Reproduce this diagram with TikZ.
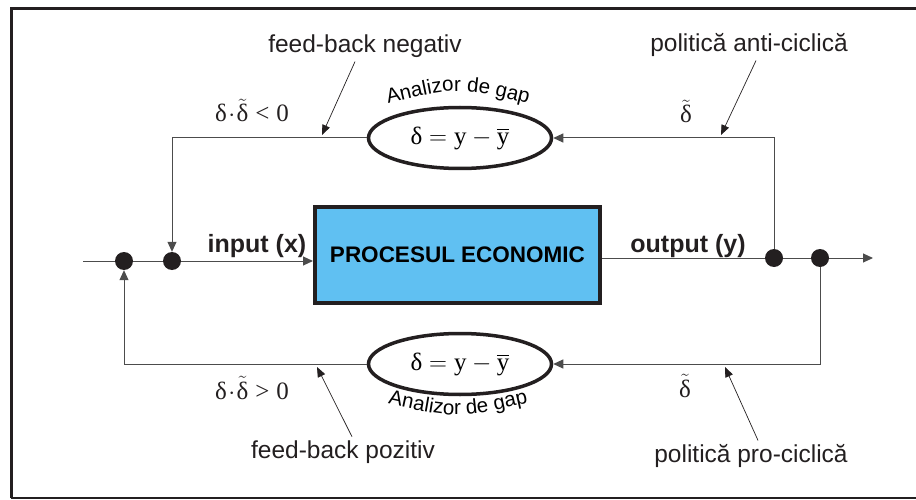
\documentclass[tikz,border=0pt]{standalone}
\usepackage[]{amsmath}
\usepackage[no-math]{fontspec}
\usepackage[]{tikz}
\setmainfont{Liberation Sans}
\newfontfamily\tms{Liberation Serif}
\usetikzlibrary{arrows.meta}
\usetikzlibrary{shapes.geometric}
\usetikzlibrary{decorations.text}
\usetikzlibrary{positioning}
\definecolor{procblue}{RGB}{96,192,242}
\definecolor{ink}{RGB}{35,31,32}
\newcommand{\gd}{\text{\tms δ}}
\newcommand{\gy}{\text{\tms y}}
\newcommand{\gsign}[1]{\mathrel{\text{\tms #1}}\text{\tms 0}}
\newcommand{\lblfont}{\fontsize{24.5}{28}\selectfont}
\newcommand{\gapfont}{\fontsize{20.5}{24}\selectfont}
\tikzset{junct/.style = {fill=ink, circle, inner sep = 0, minimum size = 18pt}}
\tikzset{gapbox/.style = {draw=ink, ellipse, line width = 3.5pt, minimum width = 183pt, minimum height = 61pt, inner sep = 0, font=\fontsize{25}{28}\selectfont}}
\tikzset{procbox/.style = {draw=ink, fill=procblue, line width = 4pt, minimum width = 285pt, minimum height = 96pt, font=\bfseries\fontsize{22.5}{26}\selectfont}}
\tikzset{flow/.style = {draw=black!70, line width = 1pt, -{Triangle[length=10pt,width=9pt]}}}
\tikzset{annot/.style = {draw=ink, line width = 0.7pt, -{Triangle[length=10pt,width=8pt]}}}
\tikzset{lbl/.style = {anchor=base, font=\lblfont, text=ink}}

\begin{document}
\begin{tikzpicture}[x=1pt, y=-1pt]
            \useasboundingbox (0,0) rectangle (916,500);
            \draw [ink, line width=3pt] (916,9)--(11,9)--(11,498);
            \draw [ink, line width=2pt] (11,498)--(916,498);

            \node [procbox] (proc) at (457.5,255) {PROCESUL ECONOMIC};
            \node [gapbox] (gapup) at (460,138) {$\gd = \gy - \overline{\gy}$};
            \node [gapbox] (gaplow) at (460,364) {$\gd = \gy - \overline{\gy}$};

            \coordinate (start) at (83,261);
            \node [junct] (inA) at (124,261) {};
            \node [junct] (inB) at (172,261) {};
            \node [junct] (outA) at (774,258) {};
            \node [junct] (outB) at (820,258) {};
            \coordinate (stop) at (873,258);

            \draw [flow] (start) -- (inA) -- (inB) -- (inB -| proc.west);
            \draw [flow] (outA -| proc.east) -- (outA) -- (outB) -- (stop);
            \draw [flow] (outA) |- (gapup.east);
            \draw [flow] (gapup.west) -| (inB.north);
            \draw [flow] (outB) |- (gaplow.east);
            \draw [flow] (gaplow.west) -| (inA.south);

            \node [lbl, font=\bfseries\fontsize{25}{28}\selectfont] (inp) at (257,252) {input (x)};
            \node [lbl, font=\bfseries\fontsize{25}{28}\selectfont] (outp) at (688,252) {output (y)};

            \node [lbl, font=\fontsize{25}{28}\selectfont] (dneg) at (252,122) {$\gd\!\cdot\!\tilde{\gd}\gsign{<}$};
            \node [lbl, font=\fontsize{25}{28}\selectfont] (dpos) at (252,399) {$\gd\!\cdot\!\tilde{\gd}\gsign{>}$};
            \node [lbl, font=\fontsize{25}{28}\selectfont] (dtup) at (686,123) {$\tilde{\gd}$};
            \node [lbl, font=\fontsize{25}{28}\selectfont] (dtlow) at (685,397) {$\tilde{\gd}$};

            \node [lbl] (fbneg) at (365,53) {feed-back negativ};
            \node [lbl] (polanti) at (749,52) {politică anti-ciclică};
            \node [lbl] (fbpoz) at (343,458) {feed-back pozitiv};
            \node [lbl] (polpro) at (751,462) {politică pro-ciclică};

            \coordinate (negtip) at (322,135);
            \coordinate (antitip) at (721,135);
            \coordinate (poztip) at (317,367);
            \coordinate (protip) at (725,367);
            \draw [annot] ([xshift=-10pt]fbneg.south) -- (negtip);
            \draw [annot] ([xshift=7pt]polanti.south) -- (antitip);
            \draw [annot] ([xshift=9pt]fbpoz.north) -- (poztip);
            \draw [annot] ([xshift=7pt]polpro.north) -- (protip);

            \path [decorate, decoration={text along path, text align=center, text={|\gapfont|Analizor de gap}}] (379,106) .. controls (458,86) .. (537,106);
            \path [decorate, decoration={text along path, text align=center, text={|\gapfont|Analizor de gap}}] (384,403) .. controls (458,419) .. (532,402);

        \end{tikzpicture}
\end{document}
